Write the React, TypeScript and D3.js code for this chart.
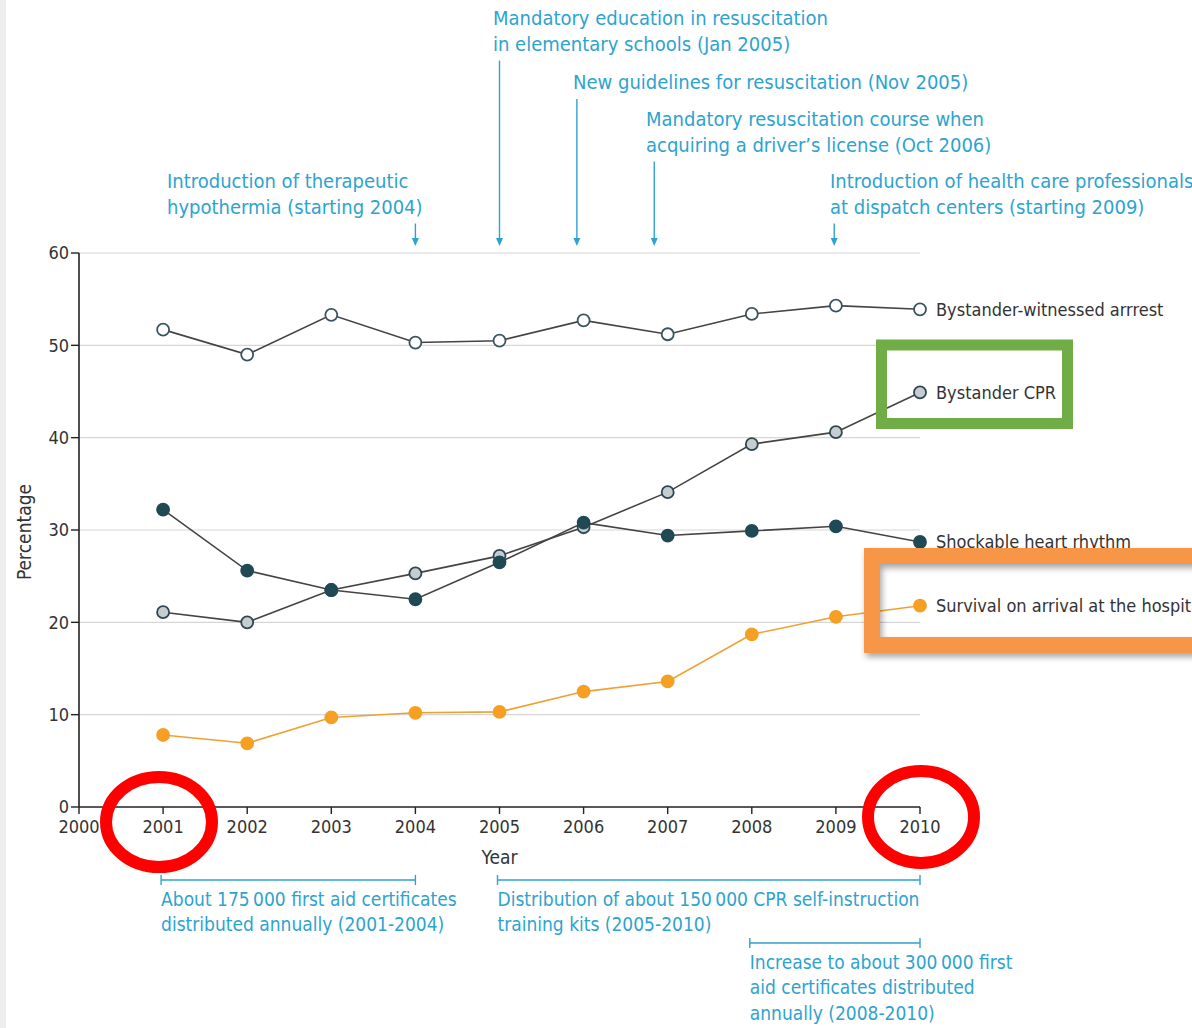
import * as d3 from "d3";

const years = [2001, 2002, 2003, 2004, 2005, 2006, 2007, 2008, 2009, 2010];
const witnessed = [51.7, 49.0, 53.3, 50.3, 50.5, 52.7, 51.2, 53.4, 54.3, 53.9];
const cpr = [21.1, 20.0, 23.5, 25.3, 27.2, 30.3, 34.1, 39.3, 40.6, 44.9];
const shockable = [32.2, 25.6, 23.5, 22.5, 26.5, 30.8, 29.4, 29.9, 30.4, 28.7];
const survival = [7.8, 6.9, 9.7, 10.2, 10.3, 12.5, 13.6, 18.7, 20.6, 21.8];
const xTicks = [2000, 2001, 2002, 2003, 2004, 2005, 2006, 2007, 2008, 2009, 2010];
const yTicks = [0, 10, 20, 30, 40, 50, 60];

const seriesLabels = [
  "Bystander-witnessed arrrest",
  "Bystander CPR",
  "Shockable heart rhythm",
  "Survival on arrival at the hospital",
];

// events above the plot: year position of the arrow + label lines
const events: { at: number; lines: string[]; tx: number; ty: number }[] = [
  { at: 2004, lines: ["Introduction of therapeutic", "hypothermia (starting 2004)"], tx: 167, ty: 181 },
  { at: 2005, lines: ["Mandatory education in resuscitation", "in elementary schools (Jan 2005)"], tx: 493, ty: 18 },
  { at: 2005.92, lines: ["New guidelines for resuscitation (Nov 2005)"], tx: 573, ty: 82 },
  { at: 2006.84, lines: ["Mandatory resuscitation course when", "acquiring a driver\u2019s license (Oct 2006)"], tx: 646, ty: 119 },
  { at: 2008.98, lines: ["Introduction of health care professionals", "at dispatch centers (starting 2009)"], tx: 830, ty: 181 },
];

const periods: { from: number; to: number; lines: string[]; by: number }[] = [
  { from: 2001, to: 2004, lines: ["About 175\u2009000 first aid certificates", "distributed annually (2001-2004)"], by: 880 },
  { from: 2005, to: 2010, lines: ["Distribution of about 150\u2009000 CPR self-instruction", "training kits (2005-2010)"], by: 880 },
  { from: 2008, to: 2010, lines: ["Increase to about 300\u2009000 first", "aid certificates distributed", "annually (2008-2010)"], by: 943 },
];

const W = 1192;
const H = 1028;
const FONT = "'DejaVu Sans Condensed', 'Liberation Sans Narrow', sans-serif";
const BLUE = "#2ea3cf";
const INK = "#333";

export default function App() {
  const x = d3.scaleLinear().domain([2000, 2010]).range([79, 920]);
  const y = d3.scaleLinear().domain([0, 60]).range([807, 253]);

  const line = d3
    .line<number>()
    .x((_, i) => x(years[i]))
    .y((d) => y(d));

  const series = [
    { vals: witnessed, fill: "#ffffff", stroke: "#3b5560", line: "#444" },
    { vals: cpr, fill: "#c5cdd0", stroke: "#2f4650", line: "#444" },
    { vals: shockable, fill: "#1f4955", stroke: "#1f4955", line: "#444" },
    { vals: survival, fill: "#f5a023", stroke: "#f5a023", line: "#f0a030" },
  ];

  const tipY = 246;

  return (
    <svg
      width={W}
      height={H}
      style={{ position: "absolute", left: 0, top: 0, background: "#fff" }}
      fontFamily={FONT}
    >
      <defs>
        <filter id="shadow" x="-10%" y="-20%" width="130%" height="150%">
          <feDropShadow dx="2" dy="4" stdDeviation="3" floodColor="#000" floodOpacity="0.35" />
        </filter>
      </defs>
      <rect x={0} y={0} width={6} height={H} fill="#eeeeee" />

      {/* grid */}
      {yTicks.filter((t) => t > 0).map((t) => (
        <line key={t} x1={x(2000)} x2={x(2010)} y1={y(t)} y2={y(t)} stroke="#d6d6d6" strokeWidth={1.2} />
      ))}

      {/* y axis */}
      <line x1={x(2000)} x2={x(2000)} y1={y(60)} y2={y(0)} stroke="#222" strokeWidth={1.6} />
      {yTicks.map((t) => (
        <g key={t}>
          <line x1={x(2000) - 8} x2={x(2000)} y1={y(t)} y2={y(t)} stroke="#222" strokeWidth={1.4} />
          <text x={x(2000) - 10} y={y(t)} dy="0.35em" textAnchor="end" fontSize={18} fill={INK}>
            {t}
          </text>
        </g>
      ))}
      <text transform={`translate(31,${(y(0) + y(60)) / 2 + 2}) rotate(-90)`} textAnchor="middle" fontSize={19} fill={INK}>
        Percentage
      </text>

      {/* x axis */}
      <line x1={x(2000)} x2={x(2010)} y1={y(0)} y2={y(0)} stroke="#222" strokeWidth={1.6} />
      {xTicks.map((t) => (
        <g key={t}>
          <line x1={x(t)} x2={x(t)} y1={y(0)} y2={y(0) + 7} stroke="#222" strokeWidth={1.4} />
          <text x={x(t)} y={y(0) + 26} textAnchor="middle" fontSize={18} fill={INK}>
            {t}
          </text>
        </g>
      ))}
      <text x={x(2005)} y={864} textAnchor="middle" fontSize={19} fill={INK}>
        Year
      </text>

      {/* series */}
      {series.map((s, k) => (
        <g key={k}>
          <path d={line(s.vals) ?? ""} fill="none" stroke={s.line} strokeWidth={1.6} />
          {s.vals.map((v, i) => (
            <circle key={i} cx={x(years[i])} cy={y(v)} r={6} fill={s.fill} stroke={s.stroke} strokeWidth={1.8} />
          ))}
          <text x={x(2010) + 16} y={y(s.vals[s.vals.length - 1])} dy="0.36em" fontSize={18} fill={INK}>
            {seriesLabels[k]}
          </text>
        </g>
      ))}

      {/* top events */}
      {events.map((e, k) => {
        const ax = x(e.at);
        return (
          <g key={k}>
            {e.lines.map((l, j) => (
              <text key={j} x={e.tx} y={e.ty + j * 25.5} dy="0.35em" fontSize={20} fill={BLUE}>
                {l}
              </text>
            ))}
            <line
              x1={ax}
              x2={ax}
              y1={e.ty + (e.lines.length - 1) * 25.5 + 17}
              y2={tipY - 4}
              stroke={BLUE}
              strokeWidth={1.4}
            />
            <path d={`M${ax - 3.5},${tipY - 8} L${ax},${tipY} L${ax + 3.5},${tipY - 8} Z`} fill={BLUE} />
          </g>
        );
      })}

      {/* bottom periods */}
      {periods.map((p, k) => (
        <g key={k} stroke={BLUE}>
          <line x1={x(p.from) - 2} x2={x(p.to)} y1={p.by} y2={p.by} strokeWidth={1.6} />
          <line x1={x(p.from) - 2} x2={x(p.from) - 2} y1={p.by - 5} y2={p.by + 5} strokeWidth={1.4} />
          <line x1={x(p.to)} x2={x(p.to)} y1={p.by - 5} y2={p.by + 5} strokeWidth={1.4} />
          {p.lines.map((l, j) => (
            <text key={j} x={x(p.from) - 2} y={p.by + 19 + j * 25.5} dy="0.35em" fontSize={19} fill={BLUE} stroke="none">
              {l}
            </text>
          ))}
        </g>
      ))}

      {/* highlight overlays */}
      <rect x={881.5} y={345} width={186} height={78.5} fill="none" stroke="#70ad47" strokeWidth={11} />
      <rect x={872} y={556} width={360} height={89} fill="none" stroke="#f79646" strokeWidth={16} filter="url(#shadow)" />
      <ellipse cx={159} cy={822} rx={53} ry={45} fill="none" stroke="#ff0000" strokeWidth={12} />
      <ellipse cx={921} cy={817} rx={53} ry={46} fill="none" stroke="#ff0000" strokeWidth={12} />
    </svg>
  );
}
